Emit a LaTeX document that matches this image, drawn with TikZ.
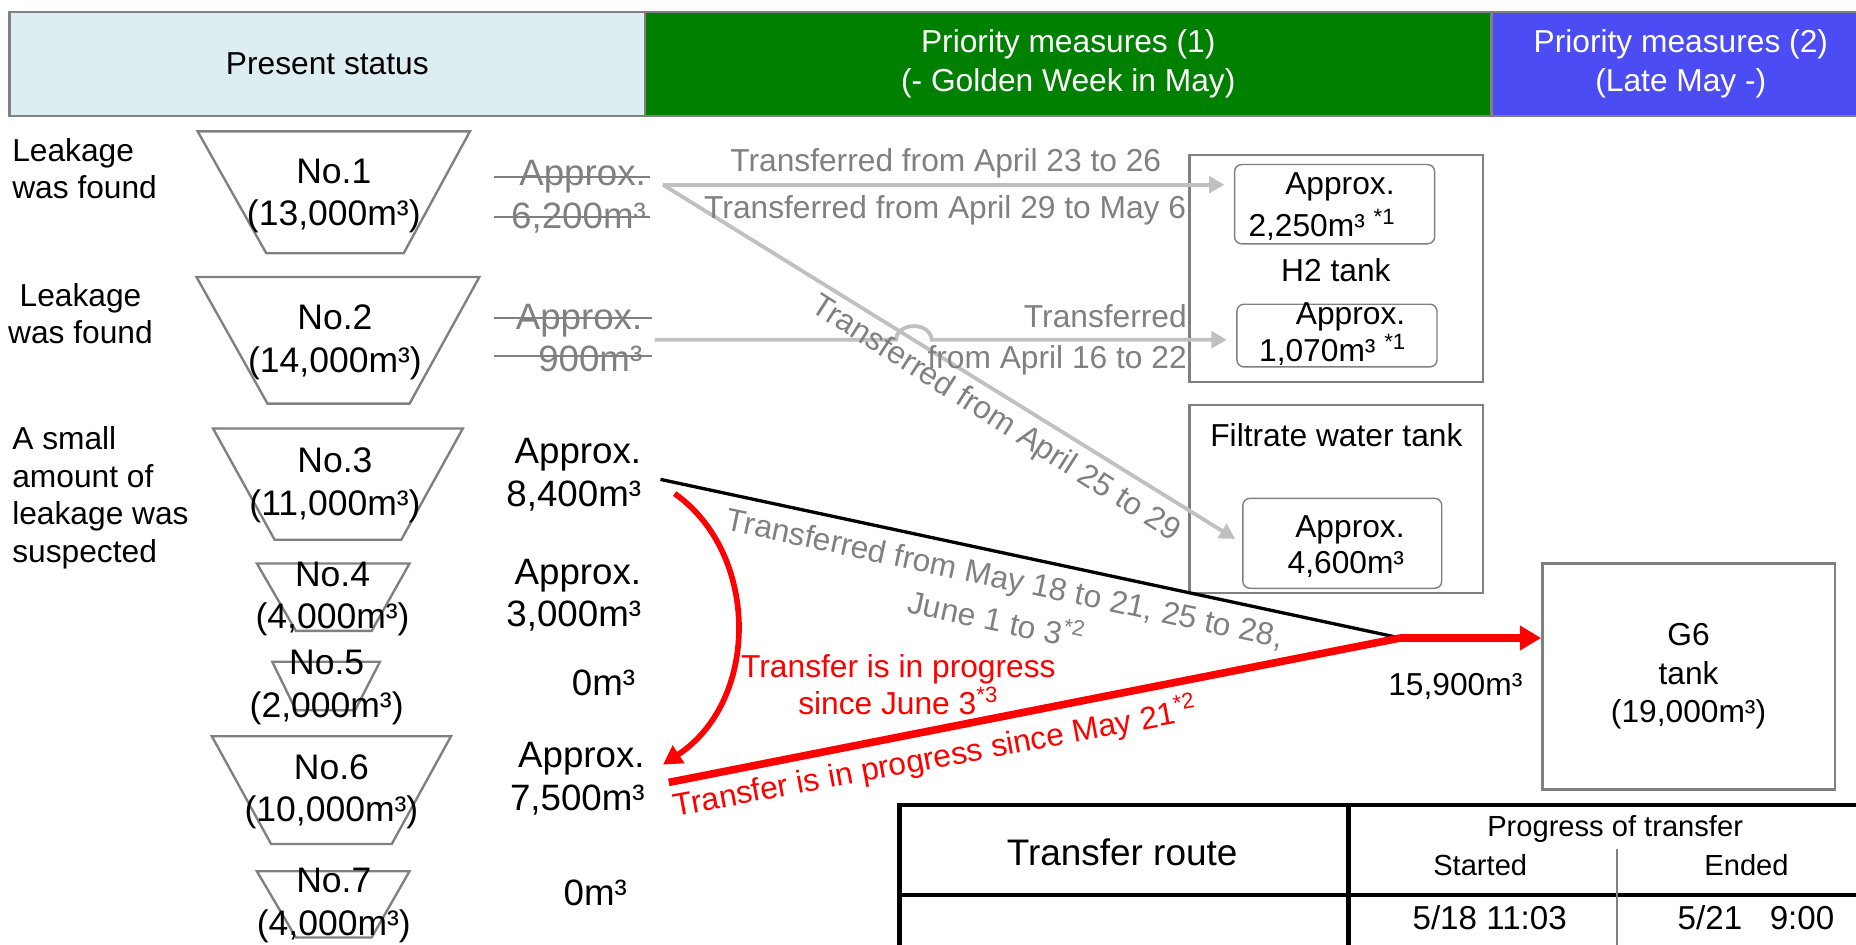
\documentclass[tikz,border=0pt]{standalone}
\usepackage{fontspec}
\setmainfont{Liberation Sans}
\usetikzlibrary{arrows.meta}
\definecolor{linegray}{RGB}{128,128,128}
\definecolor{textgray}{RGB}{128,128,128}
\definecolor{arrowgray}{RGB}{192,192,192}
\definecolor{headcyan}{RGB}{220,238,241}
\definecolor{headgreen}{RGB}{0,128,0}
\definecolor{headblue}{RGB}{76,76,244}
\tikzset{
  base_text/.style = {inner sep=0pt, font=\fontsize{13.4}{16}\selectfont},
  head_cell/.style = {base_text, draw=linegray, line width=1.1pt, align=center, minimum height=44pt, font=\fontsize{13.4}{16.25}\selectfont},
  side_text/.style = {base_text, align=left, anchor=west},
  pit_line/.style = {draw=linegray, line width=1pt},
  pit_text/.style = {base_text, align=center, font=\fontsize{15}{18}\selectfont},
  amount_text/.style = {base_text, align=right, anchor=east, font=\fontsize{15.5}{18}\selectfont},
  old_amount/.style = {amount_text, text=textgray},
  strike_line/.style = {draw=textgray, line width=0.8pt},
  tank_box/.style = {draw=linegray, line width=1pt, inner sep=0pt},
  inner_box/.style = {draw=linegray, line width=0.6pt, rounded corners=3pt, inner sep=0pt, minimum width=84.5pt},
  gray_arrow/.style = {draw=arrowgray, line width=1.6pt, -{Triangle[length=6.5pt, width=7pt]}},
  gray_label/.style = {base_text, text=textgray},
  red_label/.style = {base_text, text=red},
  black_line/.style = {draw=black, line width=1.4pt},
  red_line/.style = {draw=red, line width=3.2pt, line join=round},
  red_curve/.style = {draw=red, line width=2.4pt, -{Triangle[length=8pt, width=8.5pt]}},
  table_line/.style = {draw=black, line width=2pt},
  table_text/.style = {base_text, font=\fontsize{12.3}{15}\selectfont},
  date_text/.style = {base_text, font=\fontsize{14}{16}\selectfont},
}
\begin{document}
\begin{tikzpicture}[x=0.5pt, y=-0.5pt]
\useasboundingbox (0,0) rectangle (1568,798);

\node[head_cell, fill=headcyan, minimum width=268.5pt] (head_now) at (276.5,54) {Present status};
\node[head_cell, fill=headgreen, text=white, minimum width=357.5pt] (head_first) at (902.5,54) {Priority measures (1)\\(- Golden Week in May)};
\node[head_cell, fill=headblue, text=white, minimum width=160pt] (head_second) at (1420,54) {Priority measures (2)\\(Late May -)};

\node[side_text] (state_1) at (10,142.5) {Leakage\\was found};
\node[side_text, align=center, anchor=center] (state_2) at (68,265) {Leakage\\was found};
\node[side_text] (state_3) at (10,420.5) {A small\\amount of\\leakage was\\suspected};

\draw[pit_line] (167,111) -- (397,111) -- (341,214) -- (225,214) -- cycle;
\draw[pit_line] (166,234) -- (405,234) -- (346,341) -- (226,341) -- cycle;
\draw[pit_line] (180,362) -- (391,362) -- (339,456) -- (232,456) -- cycle;
\draw[pit_line] (217,476) -- (346,476) -- (314,533) -- (250,533) -- cycle;
\draw[pit_line] (230,559) -- (321,559) -- (300,600) -- (250,600) -- cycle;
\draw[pit_line] (179,622) -- (381,622) -- (331,713) -- (229,713) -- cycle;
\draw[pit_line] (217,736) -- (346,736) -- (314,792) -- (250,792) -- cycle;
\node[pit_text] (pit_1) at (282,165.5) {No.1\\(13,000m³)};
\node[pit_text] (pit_2) at (283,289) {No.2\\(14,000m³)};
\node[pit_text] (pit_3) at (283,410) {No.3\\(11,000m³)};
\node[pit_text] (pit_4) at (281,506) {No.4\\(4,000m³)};
\node[pit_text] (pit_5) at (276,581) {No.5\\(2,000m³)};
\node[pit_text] (pit_6) at (280,669) {No.6\\(10,000m³)};
\node[pit_text] (pit_7) at (282,765) {No.7\\(4,000m³)};

\node[old_amount] (amt_1) at (546,166) {Approx.\\6,200m³};
\node[old_amount] (amt_2) at (543,285.5) {Approx.\\900m³};
\draw[strike_line] (417,149.5) -- (549,149.5);
\draw[strike_line] (417,183) -- (549,183);
\draw[strike_line] (417,269) -- (551,269);
\draw[strike_line] (417,301) -- (551,301);
\node[amount_text] (amt_3) at (542,401) {Approx.\\8,400m³};
\node[amount_text] (amt_4) at (542,503) {Approx.\\3,000m³};
\node[amount_text] (amt_5) at (537,577) {0m³};
\node[amount_text] (amt_6) at (545,658) {Approx.\\7,500m³};
\node[amount_text] (amt_7) at (530,754) {0m³};

\node[tank_box, minimum width=124pt, minimum height=95.75pt] (h2_box) at (1129,226.75) {};
\node[tank_box, minimum width=124pt, minimum height=79.5pt] (filt_box) at (1129,421.5) {};
\node[inner_box, minimum height=33.5pt] (h2_upper) at (1127.5,172.5) {};
\node[inner_box, minimum height=26.5pt] (h2_lower) at (1129.5,283.5) {};
\node[inner_box, minimum width=84pt, minimum height=38pt] (filt_inner) at (1134,459) {};
\node[base_text] (h2_upper_a) at (1132,157.7) {Approx.};
\node[base_text] (h2_upper_b) at (1117,190) {2,250m³ \textsuperscript{*1}};
\node[base_text] (h2_name) at (1128.6,228) {H2 tank};
\node[base_text] (h2_lower_a) at (1141,267.5) {Approx.};
\node[base_text] (h2_lower_b) at (1126,295.7) {1,070m³ \textsuperscript{*1}};
\node[base_text] (filt_name) at (1129,368) {Filtrate water tank};
\node[base_text] (filt_inner_a) at (1140.5,447.8) {Approx.};
\node[base_text] (filt_inner_b) at (1137,477) {4,600m³};

\node[tank_box, align=center, minimum width=123.5pt, minimum height=95.5pt, font=\fontsize{13.4}{16.25}\selectfont] (g6_box) at (1426.5,571.5) {G6\\tank\\(19,000m³)};
\node[base_text] (sum_amount) at (1229.5,580) {15,900m³};

\coordinate (src1) at (560,156);
\coordinate (src2) at (553,287);
\coordinate (hop) at (757,287);
\coordinate (src3) at (558,405);
\coordinate (src6) at (565,661);
\coordinate (join) at (1183,539);
\coordinate (from3) at (570,417);
\coordinate (to6) at (560,646);

\draw[gray_arrow, shorten >=4pt] (src1) -- (src1 -| h2_upper.west);
\draw[gray_arrow, shorten >=3.5pt] (src1) -- (filt_inner.west);
\draw[gray_arrow, shorten >=4pt] (src2) -- (hop) arc[start angle=180, end angle=360, x radius=15, y radius=11.5] -- (src2 -| h2_lower.west);
\draw[black_line] (src3) -- (join);
\draw[red_line, -{Triangle[length=9pt, width=10pt]}] (src6) -- (join) -- (join -| g6_box.west);
\draw[red_curve] (from3) .. controls (642,468) and (642,592) .. (to6);

\node[gray_label] (lbl_a) at (799,138) {Transferred from April 23 to 26};
\node[gray_label] (lbl_b) at (798.5,177.5) {Transferred from April 29 to May 6};
\node[gray_label, align=right, anchor=east, font=\fontsize{13.4}{17}\selectfont] (lbl_c) at (1003,287) {Transferred\\from April 16 to 22};
\node[gray_label, rotate=-32.5] (lbl_d) at (841,354) {Transferred from April 25 to 29};
\node[gray_label, rotate=-12, align=center, font=\fontsize{13.4}{18.25}\selectfont] (lbl_e) at (845.5,506) {Transferred from May 18 to 21, 25 to 28,\\June 1 to 3\textsuperscript{*2}};
\node[red_label, align=center, font=\fontsize{13.4}{15.5}\selectfont] (lbl_f) at (759,578.5) {Transfer is in progress\\since June 3\textsuperscript{*3}};
\node[red_label, rotate=10.5] (lbl_g) at (790,640) {Transfer is in progress since May 21\textsuperscript{*2}};

\draw[table_line] (1580,680) -- (760,680) -- (760,805);
\draw[table_line] (1139,680) -- (1139,805);
\draw[table_line] (760,756) -- (1580,756);
\draw[draw=linegray, line width=0.8pt] (1366,717) -- (1366,805);
\node[base_text, font=\fontsize{15.6}{18}\selectfont] (route_head) at (948,720) {Transfer route};
\node[table_text] (progress_head) at (1364.5,700) {Progress of transfer};
\node[table_text] (start_head) at (1250.5,731) {Started};
\node[table_text] (end_head) at (1475.5,731) {Ended};
\node[date_text] (start_1) at (1258.5,775) {5/18 11:03};
\node[date_text] (end_1) at (1483.5,775) {5/21\ \ \ 9:00};
\end{tikzpicture}
\end{document}
